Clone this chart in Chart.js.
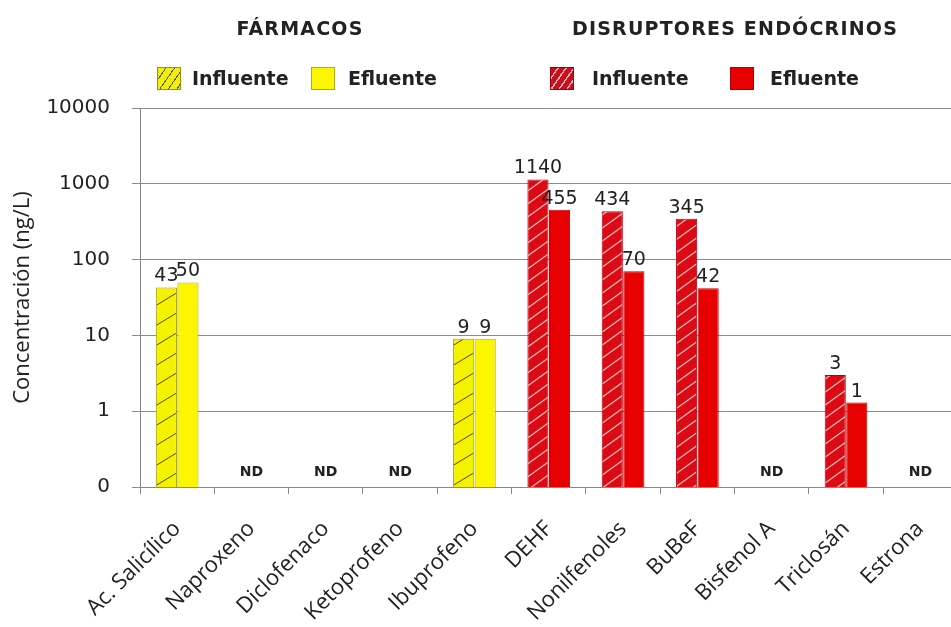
<!DOCTYPE html>
<html>
<head>
<meta charset="utf-8">
<script src="https://cdn.jsdelivr.net/npm/chart.js@4.4.0/dist/chart.umd.min.js"></script>
<style>
body { margin:0; width:951px; height:627px; overflow:hidden; background:#fff; position:relative; font-family:"DejaVu Sans", sans-serif; color:#222; }
#wrap { position:absolute; left:0; top:0; width:961px; height:627px; }
.ttl { position:absolute; top:17px; font-weight:bold; font-size:19px; letter-spacing:1.2px; line-height:22px; white-space:nowrap; transform:translateX(-50%); }
.leg { position:absolute; top:67px; font-weight:bold; font-size:19px; line-height:23px; white-space:nowrap; }
.box { position:absolute; top:67px; width:24px; height:23px; box-sizing:border-box; }
</style>
</head>
<body>
<div id="wrap"><canvas id="chart"></canvas></div>

<div class="ttl" style="left:300px">FÁRMACOS</div>
<div class="ttl" style="left:735px">DISRUPTORES ENDÓCRINOS</div>

<div class="box" style="left:157px;border:1px solid #9a9400;background:repeating-linear-gradient(125deg,#f2ee10 0 6px,#5a5600 6px 7px)"></div>
<div class="leg" style="left:192px">Influente</div>
<div class="box" style="left:311px;border:1px solid #b0aa20;background:#fbf500"></div>
<div class="leg" style="left:348px">Efluente</div>

<div class="box" style="left:550px;border:1px solid #a00010;background:repeating-linear-gradient(125deg,#c8101e 0 5px,#f6b0b0 5px 6.5px)"></div>
<div class="leg" style="left:592px">Influente</div>
<div class="box" style="left:730px;border:1px solid #b00000;background:#e60000"></div>
<div class="leg" style="left:770px">Efluente</div>

<script>
var categories = ['Ac. Salicílico', 'Naproxeno', 'Diclofenaco', 'Ketoprofeno', 'Ibuprofeno',
  'DEHF', 'Nonilfenoles', 'BuBeF', 'Bisfenol A', 'Triclosán', 'Estrona']
var groups = ['F', 'F', 'F', 'F', 'F', 'D', 'D', 'D', 'D', 'D', 'D']   // F = fármacos, D = disruptores
var influente = [43, null, null, null, 9, 1140, 434, 345, null, 3, null]
var efluente = [50, null, null, null, 9, 455, 70, 42, null, 1.3, null]
var yTicks = [0.1, 1, 10, 100, 1000, 10000]
var yTickLabels = ['0', '1', '10', '100', '1000', '10000']

// diagonal hatch as a canvas pattern
function hatch(bg, fg, w, h, lw) {
  var c = document.createElement('canvas')
  c.width = w; c.height = h
  var x = c.getContext('2d')
  x.fillStyle = bg
  x.fillRect(0, 0, w, h)
  x.strokeStyle = fg
  x.lineWidth = lw
  x.beginPath()
  for (var n = -1; n <= 1; n++) {
    x.moveTo(-w, 2 * h + n * h)
    x.lineTo(2 * w, -h + n * h)
  }
  x.stroke()
  return x.createPattern(c, 'repeat')
}

var yellowHatch = hatch('#f5f200', '#4d4a00', 33, 20, 1)
var redHatch = hatch('#dc0a14', '#ffc0c0', 18, 13, 1.2)

var inColors = groups.map(g => g == 'F' ? yellowHatch : redHatch)
var inBorders = groups.map(g => g == 'F' ? '#a09a10' : '#b80010')
var efColors = groups.map(g => g == 'F' ? '#fbf500' : '#e60000')
var efBorders = groups.map(g => g == 'F' ? '#b0aa20' : '#c00000')

var valueLabels = {
  id: 'valueLabels',
  afterDatasetsDraw(chart) {
    var ctx = chart.ctx
    ctx.save()
    ctx.fillStyle = '#222'
    ctx.textAlign = 'center'
    ctx.textBaseline = 'alphabetic'
    ctx.font = '19px "DejaVu Sans"'
    chart.data.datasets.forEach((ds, i) => {
      chart.getDatasetMeta(i).data.forEach((bar, j) => {
        if (ds.data[j] == null) return
        ctx.fillText(String(Math.round(ds.data[j])), bar.x, bar.y - 6)
      })
    })
    // not detected
    ctx.font = 'bold 14px "DejaVu Sans"'
    ctx.textBaseline = 'middle'
    categories.forEach((c, j) => {
      if (influente[j] == null && efluente[j] == null) {
        ctx.fillText('ND', chart.scales.x.getPixelForValue(j), chart.chartArea.bottom - 15)
      }
    })
    ctx.restore()
  }
}

new Chart(document.getElementById('chart'), {
  type: 'bar',
  data: {
    labels: categories,
    datasets: [
      { label: 'Influente', data: influente, backgroundColor: inColors, borderColor: inBorders, borderWidth: 1 },
      { label: 'Efluente', data: efluente, backgroundColor: efColors, borderColor: efBorders, borderWidth: 1 }
    ]
  },
  options: {
    responsive: true,
    maintainAspectRatio: false,
    animation: false,
    categoryPercentage: 0.58,
    barPercentage: 0.98,
    layout: { padding: { left: 0, top: 108, right: 0, bottom: 0 } },
    plugins: { legend: { display: false }, tooltip: { enabled: false } },
    scales: {
      x: {
        grid: { offset: true, drawOnChartArea: false, tickLength: 7, color: '#888' },
        border: { color: '#888' },
        ticks: { autoSkip: false, minRotation: 45, maxRotation: 45, padding: 22, color: '#222',
          font: { family: 'Open Sans', size: 22 } },
        afterFit: s => { s.height = 140 }
      },
      y: {
        type: 'logarithmic',
        min: 0.1,
        max: 10000,
        afterBuildTicks: s => { s.ticks = yTicks.map(v => ({ value: v })) },
        ticks: { padding: 22, color: '#222', font: { family: 'DejaVu Sans', size: 20 },
          callback: (v, i) => yTickLabels[i] },
        grid: { color: '#8c8c8c', tickLength: 8 },
        border: { color: '#888' },
        title: { display: true, text: 'Concentración (ng/L)', color: '#222',
          font: { family: 'Open Sans', size: 22 }, padding: { top: 10, bottom: 0 } },
        afterFit: s => { s.width = 140 }
      }
    }
  },
  plugins: [valueLabels]
})
</script>
</body>
</html>
